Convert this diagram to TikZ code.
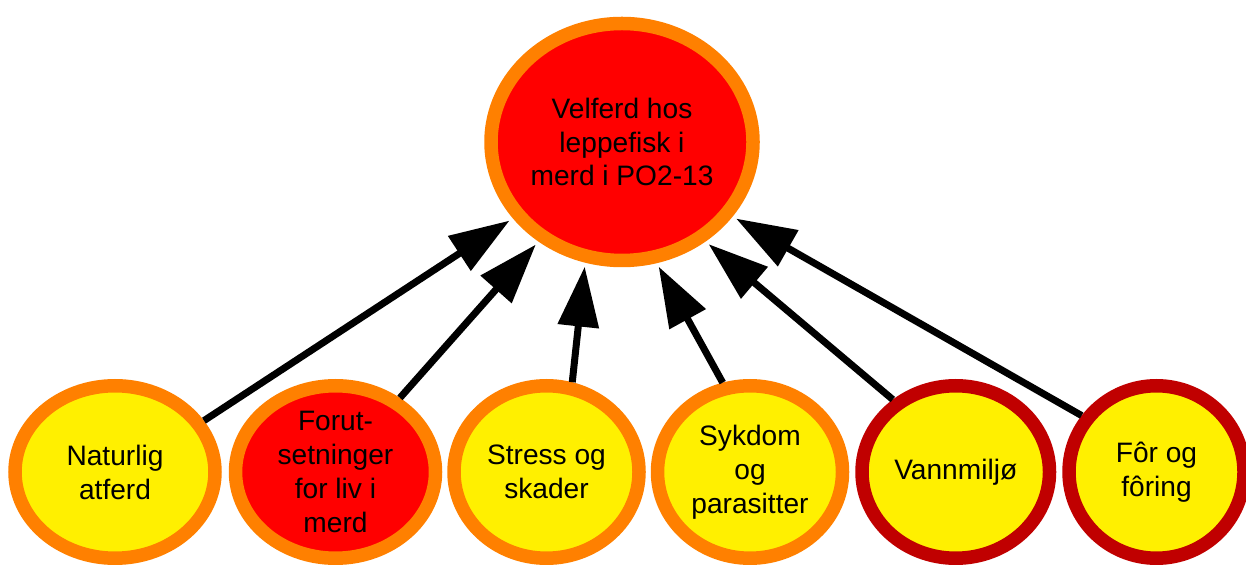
\documentclass[tikz,border=0pt]{standalone}
\usepackage{fontspec}
\setmainfont{Liberation Sans}
\usetikzlibrary{shapes.geometric,arrows.meta,positioning}
\definecolor{ringorange}{RGB}{255,128,0}
\definecolor{ringdark}{RGB}{192,0,0}
\definecolor{fillred}{RGB}{255,0,0}
\definecolor{fillyellow}{RGB}{255,240,0}
\tikzset{
  topic/.style={ellipse, draw=ringorange, line width=0.27cm, fill=fillyellow, minimum width=3.7cm, minimum height=3.45cm, align=center, inner sep=0pt, font=\fontsize{16}{19.3}\selectfont},
  topicred/.style={topic, fill=fillred},
  topicdark/.style={topic, draw=ringdark},
  arr/.style={-{Triangle[length=12mm,width=8mm]}, draw=black, line width=0.14cm, shorten >=0.08cm},
}
\begin{document}
\begin{tikzpicture}
\useasboundingbox (0,0) rectangle (24.92,-11.30);
\node[topicred, minimum width=5.24cm, minimum height=4.74cm] (n0) at (12.44,-2.84) {Velferd hos\\leppefisk i\\merd i PO2-13};
\node[topic, minimum width=4.0cm] (n1) at (2.30,-9.44) {Naturlig\\atferd};
\node[topicred, minimum width=4.0cm, right=0.14cm of n1] (n2) {Forut-\\setninger\\for liv i\\merd};
\node[topic, right=0.1cm of n2] (n3) {Stress og\\skader};
\node[topic, right=0.1cm of n3] (n4) {Sykdom\\og\\parasitter};
\node[topicdark, minimum width=3.75cm, right=0.12cm of n4] (n5) {Vannmiljø};
\node[topicdark, minimum width=3.5cm, right=0.12cm of n5] (n6) {Fôr og\\fôring};
\draw[arr] (n1.30) -- (n0.215);
\draw[arr] (n2.49) -- (n0.230);
\draw[arr] (n3.74) -- (n0.253);
\draw[arr] (n4.107) -- (n0.286);
\draw[arr] (n5.131) -- (n0.310);
\draw[arr] (n6.143) -- (n0.326);
\end{tikzpicture}
\end{document}
